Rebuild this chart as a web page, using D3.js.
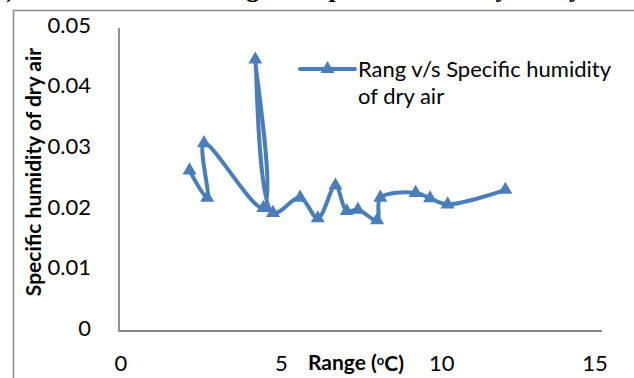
<!DOCTYPE html>
<html>
<head>
<meta charset="utf-8">
<script src="https://cdn.jsdelivr.net/npm/d3@7"></script>
<style>
    body { margin: 0; background: #fff; }
    svg { display: block; }
    text { font-family: Lato, sans-serif; fill: #000; }
</style>
</head>
<body>
<svg id="chart" width="634" height="378"></svg>
<script>
/**
 * Data.
 */
const rangeValues = [2.2, 2.75, 2.65, 4.5, 4.25, 4.8, 5.65, 6.2, 6.75, 7.1, 7.45, 8.05, 8.15, 9.25, 9.7, 10.25, 12.05];
const humidityValues = [0.0265, 0.022, 0.031, 0.0203, 0.0448, 0.0195, 0.022, 0.0186, 0.024, 0.0198, 0.02, 0.0183, 0.022, 0.0228, 0.0219, 0.0209, 0.0233];
const xTicks = [0, 5, 10, 15];
const yTicks = [0, 0.01, 0.02, 0.03, 0.04, 0.05];
const seriesName = ['Rang v/s Specific humidity', 'of dry air'];
const xTitle = 'Range (';
const yTitle = 'Specific humidity of dry air';
const pageTitle = 'Range v/s Specific humidity of dry air';

/**
 * Visual configs.
 */
const blue = '#4A7EBB',
    axisGrey = '#868686',
    plot = { left: 119, right: 600, top: 28, bottom: 331 };

const svg = d3.select('#chart');

const xScale = d3.scaleLinear().domain([0, 15]).range([plot.left, plot.right]),
    yScale = d3.scaleLinear().domain([0, 0.05]).range([plot.bottom, plot.top]);

// Cropped caption at the very top (only its descenders show)
svg.append('text')
    .attr('x', 15).attr('y', -3.5)
    .attr('text-anchor', 'end')
    .style('font-family', '"Liberation Serif", serif')
    .style('font-weight', 'bold').style('font-size', '26px')
    .text('c)');
svg.append('text')
    .attr('x', 200).attr('y', -3.5)
    .style('font-family', '"Liberation Serif", serif')
    .style('font-weight', 'bold').style('font-size', '26px')
    .text(pageTitle);

// Outer frame (only top and left edges fall inside the picture)
svg.append('path')
    .attr('d', 'M13.5,380V10.5H640')
    .attr('fill', 'none')
    .attr('stroke', '#8c8c8c')
    .attr('stroke-width', 1.5);

// Axes lines
svg.append('path')
    .attr('d', 'M' + plot.left + ',' + plot.top + 'V' + plot.bottom + 'H' + (plot.right + 2))
    .attr('fill', 'none')
    .attr('stroke', axisGrey)
    .attr('stroke-width', 1.8);

// Tick labels
svg.append('g').selectAll('text').data(yTicks).enter().append('text')
    .attr('x', 91)
    .attr('y', d => yScale(d) - 3)
    .attr('dy', '0.35em')
    .attr('text-anchor', 'end')
    .style('font-size', '22px')
    .text(d => d === 0 ? '0' : d3.format('.2f')(d));

svg.append('g').selectAll('text').data(xTicks).enter().append('text')
    .attr('x', d => xScale(d) + (d === 15 ? -5 : 2))
    .attr('y', 363)
    .attr('dy', '0.35em')
    .attr('text-anchor', 'middle')
    .style('font-size', '22px')
    .text(d => d);

// Axis titles
const xt = svg.append('text')
    .attr('x', 356).attr('y', 363)
    .attr('dy', '0.35em')
    .attr('text-anchor', 'middle')
    .style('font-size', '21px').style('font-weight', 'bold');
xt.append('tspan').text(xTitle);
xt.append('tspan').attr('dy', '-0.45em').style('font-size', '13px').text('o');
xt.append('tspan').attr('dy', '0.3em').text('C)');

svg.append('text')
    .attr('transform', 'translate(34,172) rotate(-90)')
    .attr('dy', '0.35em')
    .attr('text-anchor', 'middle')
    .style('font-size', '21px').style('font-weight', 'bold')
    .text(yTitle);

// Series
const points = rangeValues.map((r, i) => ({ x: r, y: humidityValues[i] }));

const line = d3.line()
    .x(d => xScale(d.x))
    .y(d => yScale(d.y))
    .curve(d3.curveCatmullRom.alpha(0.5));

svg.append('path')
    .datum(points)
    .attr('d', line)
    .attr('fill', 'none')
    .attr('stroke', blue)
    .attr('stroke-width', 4)
    .attr('stroke-linejoin', 'round')
    .attr('stroke-linecap', 'round');

const tri = d3.symbol().type(d3.symbolTriangle).size(85);

svg.append('g').selectAll('path').data(points).enter().append('path')
    .attr('d', tri)
    .attr('transform', d => 'translate(' + xScale(d.x) + ',' + yScale(d.y) + ')')
    .attr('fill', blue);

// Legend
const legend = svg.append('g').attr('transform', 'translate(300,69)');
legend.append('line')
    .attr('x1', 0).attr('x2', 55)
    .attr('stroke', blue).attr('stroke-width', 4).attr('stroke-linecap', 'round');
legend.append('path')
    .attr('d', tri)
    .attr('transform', 'translate(27.5,0)')
    .attr('fill', blue);
legend.selectAll('text.item').data(seriesName).enter().append('text')
    .attr('class', 'item')
    .attr('x', 58)
    .attr('y', (d, i) => i * 27)
    .attr('dy', '0.35em')
    .style('font-size', '22px')
    .text(d => d);
</script>
</body>
</html>
